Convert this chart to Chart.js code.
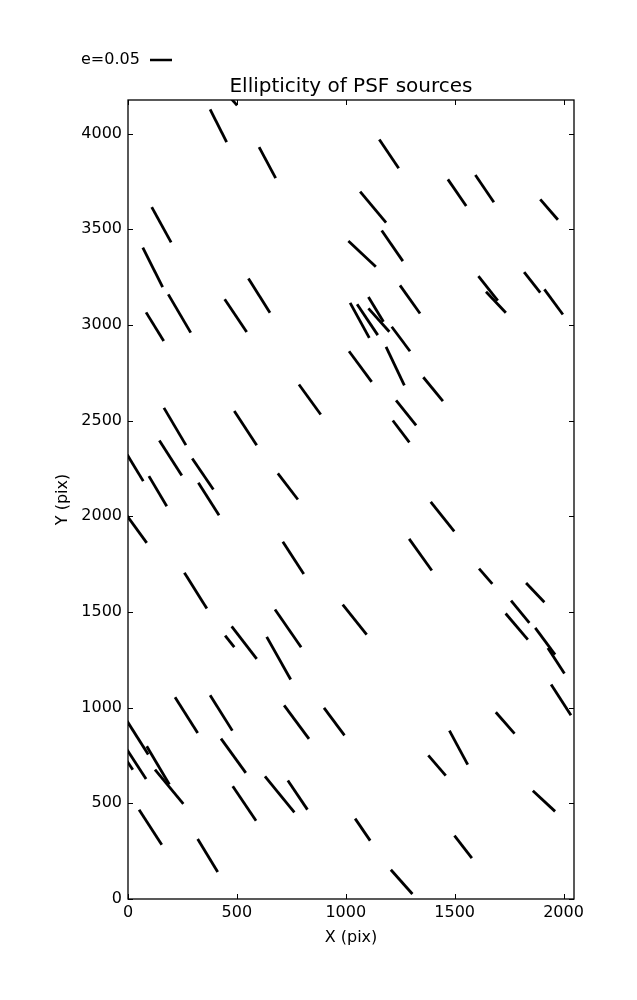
<!DOCTYPE html>
<html>
<head>
<meta charset="utf-8">
<title>Ellipticity of PSF sources</title>
<script src="https://cdn.jsdelivr.net/npm/chart.js@4/dist/chart.umd.min.js"></script>
<style>
  html, body { margin: 0; padding: 0; background: #ffffff; }
  #wrap { width: 637px; height: 1000px; }
</style>
</head>
<body>
<div id="wrap"><canvas id="psf" width="637" height="1000"></canvas></div>
<script>
// Whisker end points in CCD pixel coordinates (start x/y, end x/y)
const xStart = [377, 452, 602, 1154, 109, 1066, 1469, 1595, 1893, 1165,
  1012, 68, 185, 83, 444, 553, 1249, 1020, 1052, 1104,
  1104, 1211, 1609, 1644, 1819, 1912, 1015, 1185, 1356, 785,
  1231, 1216, 165, 488, 144, -9, 295, 96, 323, 688,
  1390, -9, 711, 1291, 259, 1612, 1828, 675, 986, 1759,
  1734, 1870, 1928, 446, 476, 637, 216, 377, 717, 900,
  1943, 1689, 1476, -5, -5, -18, 86, 124, 427, 1379,
  481, 629, 734, 1859, 51, 320, 1043, 1499, 1207];
const yStart = [4127, 4211, 3930, 3970, 3616, 3697, 3761, 3784, 3657, 3494,
  3439, 3404, 3160, 3066, 3135, 3243, 3207, 3116, 3108, 3146,
  3087, 2991, 3255, 3174, 3276, 3186, 2863, 2886, 2727, 2689,
  2606, 2501, 2567, 2550, 2396, 2332, 2302, 2210, 2175, 2224,
  2076, 2010, 1867, 1882, 1705, 1727, 1652, 1513, 1539, 1560,
  1492, 1417, 1312, 1377, 1425, 1370, 1054, 1065, 1012, 999,
  1121, 976, 880, 931, 781, 744, 798, 676, 838, 751,
  589, 641, 619, 566, 467, 314, 420, 331, 153];
const xEnd = [453, 501, 678, 1243, 198, 1185, 1553, 1680, 1974, 1262,
  1138, 159, 288, 164, 545, 652, 1341, 1108, 1147, 1173,
  1200, 1295, 1698, 1735, 1893, 1997, 1119, 1269, 1446, 885,
  1323, 1292, 266, 591, 247, 70, 392, 178, 418, 780,
  1498, 86, 807, 1395, 362, 1673, 1912, 795, 1096, 1843,
  1836, 1961, 2004, 488, 591, 747, 320, 479, 831, 994,
  2034, 1775, 1560, 93, 83, 22, 190, 254, 541, 1459,
  588, 764, 824, 1961, 155, 412, 1112, 1579, 1306];
const yEnd = [3956, 4148, 3768, 3819, 3432, 3535, 3622, 3642, 3550, 3334,
  3305, 3198, 2960, 2916, 2963, 3064, 3060, 2933, 2947, 3017,
  2965, 2863, 3128, 3064, 3169, 3055, 2703, 2684, 2602, 2532,
  2476, 2387, 2372, 2372, 2213, 2184, 2140, 2053, 2006, 2088,
  1922, 1861, 1699, 1717, 1518, 1647, 1551, 1316, 1382, 1443,
  1356, 1277, 1178, 1316, 1255, 1147, 868, 880, 837, 855,
  960, 864, 702, 755, 627, 676, 598, 497, 659, 645,
  409, 453, 467, 458, 284, 141, 305, 214, 26];

// Axis ranges and tick labels
const xRange = [0, 2048];
const yRange = [0, 4176];
const xTicks = [0, 500, 1000, 1500, 2000];
const yTicks = [0, 500, 1000, 1500, 2000, 2500, 3000, 3500, 4000];
const keyLabel = 'e=0.05';

const FONT = 'DejaVu Sans';

const datasets = xStart.map((x, i) => ({
  data: [{ x: x, y: yStart[i] }, { x: xEnd[i], y: yEnd[i] }],
  showLine: true,
  borderColor: '#000000',
  borderWidth: 2.8,
  borderCapStyle: 'butt',
  pointRadius: 0,
  pointHoverRadius: 0,
  clip: 0
}));

// Frame, inward ticks on all four sides, and the e=0.05 key
const framePlugin = {
  id: 'frame',
  afterDraw(chart) {
    const { ctx, chartArea: a, scales } = chart;
    const len = 5;
    ctx.save();
    ctx.strokeStyle = '#000000';
    ctx.lineWidth = 1;
    ctx.beginPath();
    scales.x.ticks.forEach(t => {
      const px = Math.round(scales.x.getPixelForValue(t.value)) + 0.5;
      ctx.moveTo(px, a.bottom); ctx.lineTo(px, a.bottom - len);
      ctx.moveTo(px, a.top); ctx.lineTo(px, a.top + len);
    });
    scales.y.ticks.forEach(t => {
      const py = Math.round(scales.y.getPixelForValue(t.value)) + 0.5;
      ctx.moveTo(a.left, py); ctx.lineTo(a.left + len, py);
      ctx.moveTo(a.right, py); ctx.lineTo(a.right - len, py);
    });
    ctx.stroke();
    ctx.lineWidth = 1.3;
    ctx.strokeRect(a.left, a.top, a.right - a.left, a.bottom - a.top);

    // quiver-style key above the axes
    const ky = a.top - 40;
    ctx.fillStyle = '#000000';
    ctx.font = '16px "' + FONT + '"';
    ctx.textAlign = 'left';
    ctx.textBaseline = 'middle';
    ctx.fillText(keyLabel, a.left - 47, ky);
    ctx.lineWidth = 2.5;
    ctx.beginPath();
    ctx.moveTo(a.left + 22, ky);
    ctx.lineTo(a.left + 44, ky);
    ctx.stroke();
    ctx.restore();
  }
};

new Chart(document.getElementById('psf'), {
  type: 'scatter',
  data: { datasets: datasets },
  plugins: [framePlugin],
  options: {
    responsive: false,
    animation: false,
    layout: { padding: { left: 49, right: 63, top: 75, bottom: 48.4 } },
    plugins: {
      legend: { display: false },
      tooltip: { enabled: false },
      title: {
        display: true,
        text: 'Ellipticity of PSF sources',
        color: '#000000',
        fullSize: false,
        font: { family: FONT, size: 20, weight: 'normal' },
        padding: { top: 0, bottom: 1 }
      }
    },
    scales: {
      x: {
        type: 'linear',
        min: xRange[0],
        max: xRange[1],
        afterFit(scale) { scale.height = 52.6; },
        afterBuildTicks(scale) { scale.ticks = xTicks.map(v => ({ value: v })); },
        grid: { display: true, drawOnChartArea: false, drawTicks: false },
        border: { display: false },
        ticks: {
          color: '#000000',
          padding: 4,
          maxRotation: 0,
          autoSkip: false,
          callback: v => String(v),
          font: { family: FONT, size: 16 }
        },
        title: {
          display: true,
          text: 'X (pix)',
          color: '#000000',
          font: { family: FONT, size: 16 },
          padding: { top: 4, bottom: 4 }
        }
      },
      y: {
        type: 'linear',
        min: yRange[0],
        max: yRange[1],
        afterFit(scale) { scale.width = 79; },
        afterBuildTicks(scale) { scale.ticks = yTicks.map(v => ({ value: v })); },
        grid: { display: true, drawOnChartArea: false, drawTicks: false },
        border: { display: false },
        ticks: {
          color: '#000000',
          padding: 6,
          autoSkip: false,
          callback: v => String(v),
          font: { family: FONT, size: 16 }
        },
        title: {
          display: true,
          text: 'Y (pix)',
          color: '#000000',
          font: { family: FONT, size: 16 },
          padding: { top: 4, bottom: 4 }
        }
      }
    }
  }
});
</script>
</body>
</html>
